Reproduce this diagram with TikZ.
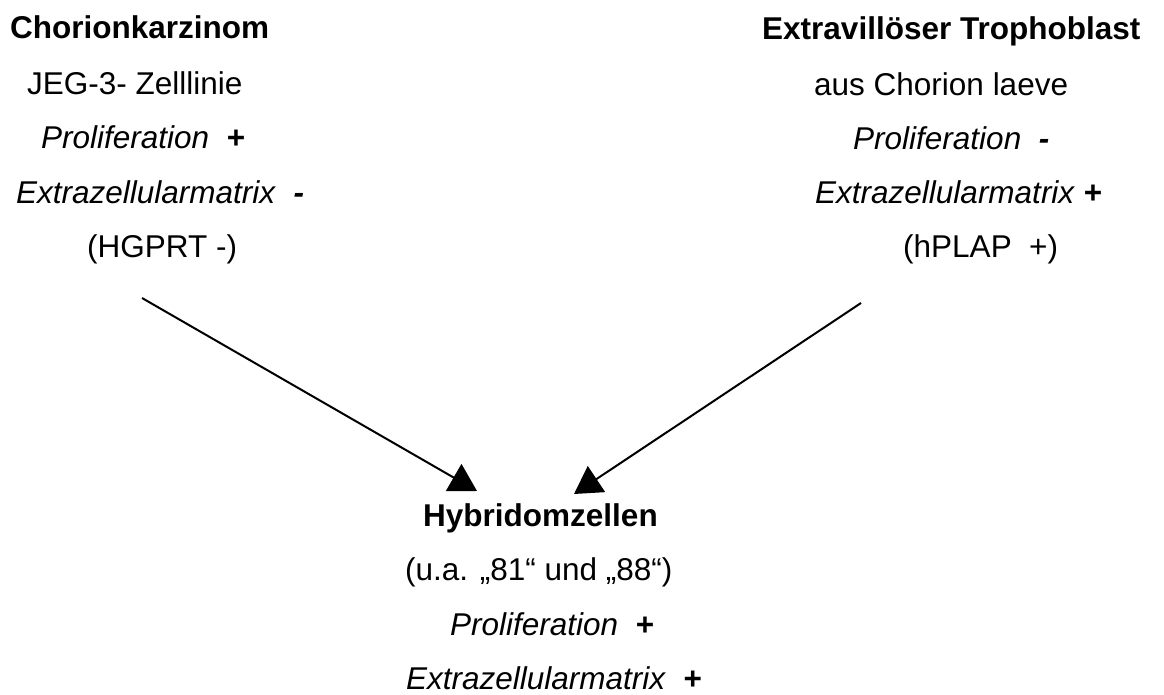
\documentclass[tikz,border=0pt]{standalone}
\usepackage{fontspec}
\setmainfont{Liberation Sans}
\usepackage{tikz}
\usetikzlibrary{arrows.meta}

\begin{document}
\begin{tikzpicture}[
  x=1pt, y=-1pt,
  txt/.style={anchor=base west, inner sep=0pt, font=\fontsize{31.5pt}{38pt}\selectfont},
  head/.style={txt, font=\fontsize{31.5pt}{38pt}\selectfont\bfseries},
  arrow/.style={-{Triangle[length=27pt,width=31pt]}, line width=2pt}
]
\useasboundingbox (0,0) rectangle (1164,695);

% left: Chorionkarzinom
\node[head] (chorio) at (10,39) {Chorionkarzinom};
\node[txt] (jeg) at (27,95) {JEG-3- Zelllinie};
\node[txt] (prolL) at (41,149) {\textit{Proliferation}\ \ \textbf{+}};
\node[txt] (ezmL) at (16,204) {\textit{Extrazellularmatrix}\ \ \textbf{\textit{-}}};
\node[txt] (hgprt) at (87,257) {(HGPRT -)};

% right: Extravilloeser Trophoblast
\node[head] (evt) at (762,40) {Extravillöser Trophoblast};
\node[txt] (laeve) at (814,96) {aus Chorion laeve};
\node[txt] (prolR) at (853,150) {\textit{Proliferation}\ \ \textbf{\textit{-}}};
\node[txt] (ezmR) at (815,204) {\textit{Extrazellularmatrix}\ \textbf{+}};
\node[txt] (hplap) at (903,257) {(hPLAP\ \ +)};

% bottom: Hybridomzellen
\node[head] (hybrid) at (423,526) {Hybridomzellen};
\node[txt] (clones) at (405,580) {(u.a. „81“ und „88“)};
\node[txt] (prolH) at (450,635) {\textit{Proliferation}\ \ \textbf{+}};
\node[txt] (ezmH) at (406,689) {\textit{Extrazellularmatrix}\ \ \textbf{+}};

\coordinate (startL) at (142,298);
\coordinate (tipL) at (477,491);
\coordinate (startR) at (861,303);
\coordinate (tipR) at (574,494);

\draw[arrow] (startL) -- (tipL);
\draw[arrow] (startR) -- (tipR);

\end{tikzpicture}
\end{document}
